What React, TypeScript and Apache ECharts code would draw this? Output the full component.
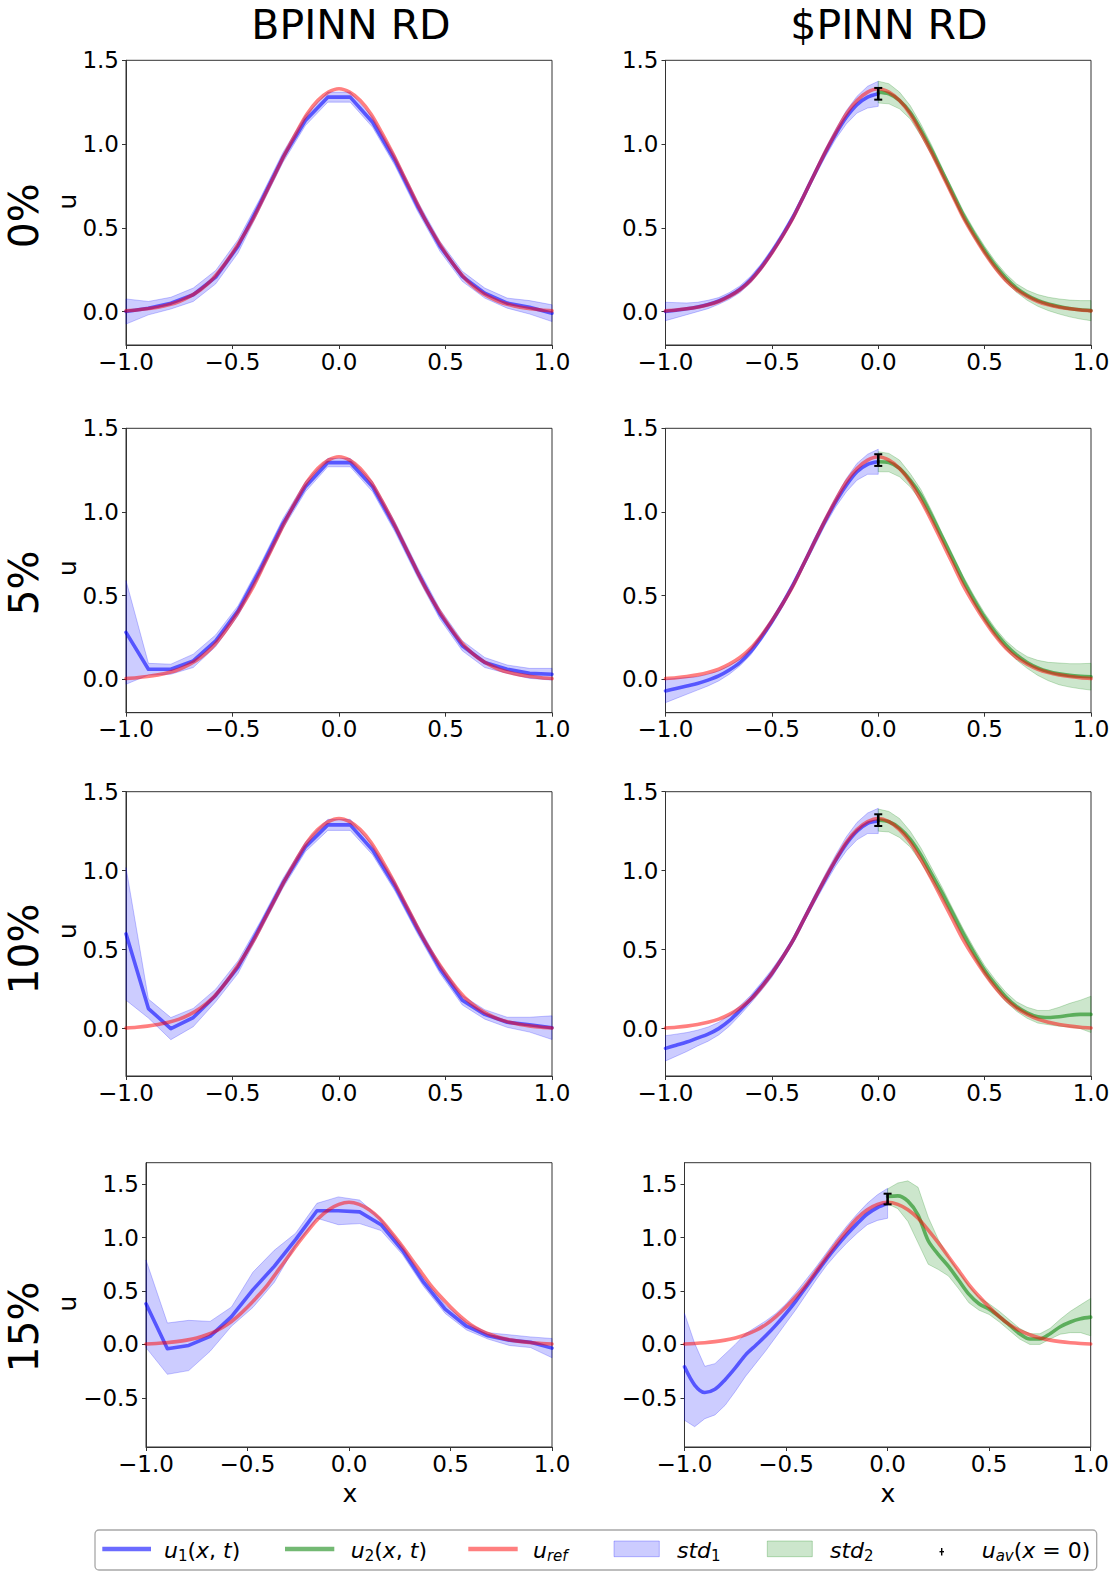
import React, { useEffect, useRef } from 'react';
import * as echarts from 'echarts';

const W = 1114;
const H = 1577;

// ---------- data ----------
const COL_TITLES = ['BPINN RD', '$PINN RD'];
const ROW_LABELS = ['0%', '5%', '10%', '15%'];
const X_TICKS = [-1, -0.5, 0, 0.5, 1];
const Y_RANGES = [[-0.2, 1.5], [-0.2, 1.5], [-0.3, 1.5], [-0.96, 1.7]];
const Y_TICKS = [[0, 0.5, 1, 1.5], [0, 0.5, 1, 1.5], [0, 0.5, 1, 1.5], [-0.5, 0, 0.5, 1, 1.5]];

// reference solution
const X_REF = [-1, -0.95, -0.9, -0.85, -0.8, -0.75, -0.7, -0.65, -0.6, -0.55, -0.5, -0.45, -0.4, -0.35, -0.3, -0.25, -0.2, -0.15, -0.1, -0.05, 0,
  0.05, 0.1, 0.15, 0.2, 0.25, 0.3, 0.35, 0.4, 0.45, 0.5, 0.55, 0.6, 0.65, 0.7, 0.75, 0.8, 0.85, 0.9, 0.95, 1];
const U_REF = [0.004, 0.009, 0.016, 0.026, 0.04, 0.06, 0.09, 0.13, 0.185, 0.26, 0.35, 0.45, 0.56, 0.69, 0.82, 0.95, 1.07, 1.18, 1.26, 1.31, 1.33,
  1.31, 1.26, 1.18, 1.07, 0.95, 0.82, 0.69, 0.56, 0.45, 0.35, 0.26, 0.185, 0.13, 0.09, 0.06, 0.04, 0.026, 0.016, 0.009, 0.004];

// BPINN grid
const X_BP = [-1, -0.8947, -0.7895, -0.6842, -0.5789, -0.4737, -0.3684, -0.2632, -0.1579, -0.0526,
  0.0526, 0.1579, 0.2632, 0.3684, 0.4737, 0.5789, 0.6842, 0.7895, 0.8947, 1];
const BP_MEAN_0 = [0.0, 0.02, 0.05, 0.1, 0.205, 0.39, 0.65, 0.92, 1.14, 1.28, 1.28, 1.13, 0.9, 0.63, 0.39, 0.21, 0.11, 0.05, 0.025, -0.01];
const BP_STD_0 = [0.075, 0.04, 0.035, 0.04, 0.04, 0.04, 0.03, 0.03, 0.03, 0.03, 0.03, 0.03, 0.03, 0.03, 0.03, 0.03, 0.03, 0.03, 0.04, 0.05];
const BP_MEAN_1 = [0.28, 0.06, 0.06, 0.11, 0.23, 0.41, 0.66, 0.93, 1.15, 1.295, 1.295, 1.15, 0.91, 0.64, 0.39, 0.2, 0.1, 0.06, 0.035, 0.03];
const BP_STD_1 = [0.31, 0.035, 0.03, 0.04, 0.035, 0.03, 0.03, 0.03, 0.03, 0.025, 0.025, 0.03, 0.03, 0.03, 0.03, 0.03, 0.03, 0.025, 0.03, 0.035];
const BP_MEAN_2 = [0.6, 0.127, 0.0, 0.07, 0.21, 0.39, 0.65, 0.92, 1.15, 1.29, 1.29, 1.13, 0.9, 0.63, 0.38, 0.18, 0.09, 0.04, 0.025, 0.006];
const BP_STD_2 = [0.42, 0.06, 0.07, 0.058, 0.04, 0.04, 0.03, 0.03, 0.03, 0.035, 0.035, 0.03, 0.03, 0.03, 0.03, 0.03, 0.03, 0.032, 0.047, 0.075];
const BP_MEAN_3 = [0.38, -0.04, -0.01, 0.075, 0.26, 0.51, 0.73, 0.98, 1.25, 1.25, 1.24, 1.12, 0.88, 0.58, 0.33, 0.17, 0.08, 0.04, 0.02, -0.035];
const BP_STD_3 = [0.41, 0.24, 0.235, 0.14, 0.09, 0.165, 0.15, 0.06, 0.07, 0.13, 0.11, 0.055, 0.04, 0.04, 0.04, 0.035, 0.03, 0.05, 0.05, 0.09];

// $PINN grids
const X_L = [-1, -0.95, -0.9, -0.85, -0.8, -0.75, -0.7, -0.65, -0.6, -0.55, -0.5, -0.45, -0.4, -0.35, -0.3, -0.25, -0.2, -0.15, -0.1, -0.05, 0];
const X_R = [0, 0.05, 0.1, 0.15, 0.2, 0.25, 0.3, 0.35, 0.4, 0.45, 0.5, 0.55, 0.6, 0.65, 0.7, 0.75, 0.8, 0.85, 0.9, 0.95, 1];

const PI_U1_0 = [0.0, 0.008, 0.016, 0.027, 0.042, 0.063, 0.093, 0.133, 0.19, 0.265, 0.355, 0.455, 0.565, 0.69, 0.82, 0.945, 1.06, 1.16, 1.235, 1.28, 1.3];
const PI_S1_0 = [0.055, 0.045, 0.035, 0.028, 0.025, 0.02, 0.02, 0.02, 0.02, 0.02, 0.02, 0.02, 0.02, 0.02, 0.02, 0.025, 0.03, 0.04, 0.05, 0.065, 0.075];
const PI_U2_0 = [1.31, 1.3, 1.26, 1.19, 1.085, 0.965, 0.835, 0.705, 0.575, 0.465, 0.365, 0.275, 0.2, 0.14, 0.097, 0.066, 0.045, 0.03, 0.018, 0.01, 0.005];
const PI_S2_0 = [0.065, 0.06, 0.05, 0.04, 0.035, 0.03, 0.025, 0.025, 0.025, 0.025, 0.025, 0.025, 0.025, 0.025, 0.03, 0.035, 0.04, 0.045, 0.05, 0.055, 0.06];
const AV_0 = [1.3, 0.035];

const PI_U1_1 = [-0.07, -0.055, -0.04, -0.025, -0.005, 0.02, 0.055, 0.1, 0.165, 0.25, 0.345, 0.45, 0.565, 0.69, 0.82, 0.945, 1.06, 1.16, 1.24, 1.285, 1.3];
const PI_S1_1 = [0.07, 0.06, 0.05, 0.04, 0.035, 0.03, 0.025, 0.02, 0.02, 0.02, 0.02, 0.02, 0.02, 0.02, 0.025, 0.025, 0.03, 0.04, 0.05, 0.06, 0.075];
const PI_U2_1 = [1.3, 1.295, 1.26, 1.19, 1.1, 0.98, 0.85, 0.72, 0.59, 0.475, 0.37, 0.28, 0.205, 0.145, 0.1, 0.068, 0.046, 0.032, 0.023, 0.018, 0.015];
const PI_S2_1 = [0.06, 0.055, 0.05, 0.04, 0.035, 0.03, 0.025, 0.025, 0.025, 0.025, 0.025, 0.025, 0.025, 0.03, 0.035, 0.045, 0.055, 0.065, 0.07, 0.075, 0.08];
const AV_1 = [1.31, 0.035];

const PI_U1_2 = [-0.125, -0.105, -0.085, -0.06, -0.035, 0.0, 0.05, 0.115, 0.185, 0.265, 0.35, 0.45, 0.56, 0.69, 0.82, 0.945, 1.065, 1.17, 1.25, 1.3, 1.315];
const PI_S1_2 = [0.08, 0.07, 0.06, 0.05, 0.045, 0.04, 0.035, 0.03, 0.025, 0.025, 0.025, 0.02, 0.02, 0.02, 0.025, 0.03, 0.035, 0.045, 0.055, 0.065, 0.08];
const PI_U2_2 = [1.32, 1.31, 1.27, 1.2, 1.1, 0.98, 0.86, 0.73, 0.6, 0.48, 0.37, 0.28, 0.2, 0.14, 0.1, 0.075, 0.07, 0.075, 0.085, 0.09, 0.09];
const PI_S2_2 = [0.07, 0.065, 0.06, 0.05, 0.045, 0.04, 0.035, 0.03, 0.03, 0.03, 0.03, 0.03, 0.03, 0.03, 0.035, 0.04, 0.045, 0.06, 0.075, 0.09, 0.115];
const AV_2 = [1.32, 0.037];

const PI_U1_3 = [-0.21, -0.38, -0.45, -0.42, -0.33, -0.22, -0.1, -0.01, 0.08, 0.18, 0.29, 0.41, 0.54, 0.67, 0.8, 0.92, 1.03, 1.13, 1.22, 1.28, 1.32];
const PI_S1_3 = [0.5, 0.39, 0.245, 0.24, 0.24, 0.22, 0.2, 0.17, 0.14, 0.11, 0.09, 0.08, 0.07, 0.06, 0.06, 0.07, 0.08, 0.09, 0.1, 0.12, 0.14];
const PI_U2_3 = [1.385, 1.39, 1.34, 1.21, 0.97, 0.84, 0.73, 0.6, 0.47, 0.38, 0.33, 0.26, 0.18, 0.1, 0.05, 0.05, 0.1, 0.165, 0.21, 0.24, 0.255];
const PI_S2_3 = [0.07, 0.12, 0.19, 0.26, 0.22, 0.14, 0.09, 0.08, 0.08, 0.06, 0.05, 0.05, 0.05, 0.05, 0.05, 0.05, 0.05, 0.07, 0.1, 0.13, 0.175];
const AV_3 = [1.36, 0.05];

const BP_ROWS = [
  [BP_MEAN_0, BP_STD_0], [BP_MEAN_1, BP_STD_1], [BP_MEAN_2, BP_STD_2], [BP_MEAN_3, BP_STD_3],
];
const PI_ROWS = [
  [PI_U1_0, PI_S1_0, PI_U2_0, PI_S2_0, AV_0],
  [PI_U1_1, PI_S1_1, PI_U2_1, PI_S2_1, AV_1],
  [PI_U1_2, PI_S1_2, PI_U2_2, PI_S2_2, AV_2],
  [PI_U1_3, PI_S1_3, PI_U2_3, PI_S2_3, AV_3],
];

// ---------- layout / style ----------
const FONT = 'DejaVu Sans';
const BLUE_LINE = 'rgba(0,0,255,0.58)';
const GREEN_LINE = 'rgba(0,128,0,0.55)';
const RED_LINE = 'rgba(255,0,0,0.5)';
const BLUE_BAND = 'rgba(0,0,255,0.2)';
const GREEN_BAND = 'rgba(0,128,0,0.2)';
const AXIS_COLOR = '#333';

const ROW_TOP = [60.3, 428.3, 791.7, 1162.7];
const ROW_H = [284.7, 284.4, 284.3, 284.3];
const COL_LEFT = [[126, 665.5], [126, 665.5], [126, 665.5], [146, 684.5]];
const COL_W = [[426, 425.5], [426, 425.5], [426, 425.5], [406, 406.2]];

const fmt = (v: number) => (v < 0 ? '\u2212' : '') + Math.abs(v).toFixed(1);

function bandSeries(k: number, xs: number[], mean: number[], std: number[], fill: string, stroke: string) {
  const lo = xs.map((_, i) => mean[i] - std[i]);
  const hi = xs.map((_, i) => mean[i] + std[i]);
  return {
    type: 'custom',
    xAxisIndex: k,
    yAxisIndex: k,
    silent: true,
    z: 1,
    data: xs.map((x, i) => [x, lo[i], hi[i]]),
    encode: { x: 0, y: [1, 2] },
    renderItem: (params: any, api: any) => {
      if (params.dataIndex !== 0) return null;
      const pts: number[][] = [];
      for (let i = 0; i < xs.length; i++) pts.push(api.coord([xs[i], hi[i]]));
      for (let i = xs.length - 1; i >= 0; i--) pts.push(api.coord([xs[i], lo[i]]));
      return { type: 'polygon', shape: { points: pts }, style: { fill, stroke, lineWidth: 1 } };
    },
  };
}

function lineSeries(k: number, xs: number[], ys: number[], color: string, smooth: boolean | number, z: number, width = 3.6) {
  return {
    type: 'line',
    xAxisIndex: k,
    yAxisIndex: k,
    silent: true,
    z,
    symbol: 'none',
    showSymbol: false,
    smooth,
    data: xs.map((x, i) => [x, ys[i]]),
    lineStyle: { color, width, cap: 'round', join: 'round' },
    itemStyle: { color },
  };
}

function errSeries(k: number, av: number[]) {
  return {
    type: 'custom',
    xAxisIndex: k,
    yAxisIndex: k,
    silent: true,
    z: 10,
    data: [[0, av[0], av[1]]],
    renderItem: (_p: any, api: any) => {
      const x = api.value(0), m = api.value(1), e = api.value(2);
      const t = api.coord([x, m + e]);
      const b = api.coord([x, m - e]);
      return {
        type: 'group',
        children: [
          { type: 'line', shape: { x1: t[0], y1: t[1], x2: b[0], y2: b[1] }, style: { stroke: '#000', lineWidth: 2.6 } },
          { type: 'line', shape: { x1: t[0] - 4, y1: t[1], x2: t[0] + 4, y2: t[1] }, style: { stroke: '#000', lineWidth: 2 } },
          { type: 'line', shape: { x1: b[0] - 4, y1: b[1], x2: b[0] + 4, y2: b[1] }, style: { stroke: '#000', lineWidth: 2 } },
        ],
      };
    },
  };
}

function buildOption() {
  const grid: any[] = [];
  const xAxis: any[] = [];
  const yAxis: any[] = [];
  const series: any[] = [];

  for (let r = 0; r < 4; r++) {
    for (let c = 0; c < 2; c++) {
      const k = r * 2 + c;
      grid.push({
        left: COL_LEFT[r][c], top: ROW_TOP[r], width: COL_W[r][c], height: ROW_H[r],
        show: true, borderColor: AXIS_COLOR, borderWidth: 1, backgroundColor: 'transparent',
      });
      xAxis.push({
        gridIndex: k, type: 'value', min: -1, max: 1, interval: 0.5,
        axisLine: { show: true, onZero: false, lineStyle: { color: AXIS_COLOR, width: 1 } },
        axisTick: { show: true, length: 4, lineStyle: { color: AXIS_COLOR }, customValues: X_TICKS },
        axisLabel: { fontSize: 23, color: '#000', margin: 5, fontFamily: FONT, formatter: fmt, showMinLabel: true, showMaxLabel: true, customValues: X_TICKS },
        splitLine: { show: false },
      });
      yAxis.push({
        gridIndex: k, type: 'value', min: Y_RANGES[r][0], max: Y_RANGES[r][1],
        axisLine: { show: true, onZero: false, lineStyle: { color: AXIS_COLOR, width: 1 } },
        axisTick: { show: true, length: 4, lineStyle: { color: AXIS_COLOR }, customValues: Y_TICKS[r] },
        axisLabel: { fontSize: 23, color: '#000', margin: 7, fontFamily: FONT, formatter: fmt, customValues: Y_TICKS[r] },
        splitLine: { show: false },
      });

      if (c === 0) {
        const [mean, std] = BP_ROWS[r];
        series.push(bandSeries(k, X_BP, mean, std, BLUE_BAND, 'rgba(0,0,255,0.22)'));
        series.push(lineSeries(k, X_BP, mean, BLUE_LINE, false, 2));
        series.push(lineSeries(k, X_REF, U_REF, RED_LINE, 0.3, 3));
      } else {
        const [u1, s1, u2, s2, av] = PI_ROWS[r];
        series.push(bandSeries(k, X_L, u1, s1, BLUE_BAND, 'rgba(0,0,255,0.22)'));
        series.push(bandSeries(k, X_R, u2, s2, GREEN_BAND, 'rgba(0,128,0,0.22)'));
        series.push(lineSeries(k, X_L, u1, BLUE_LINE, 0.3, 2));
        series.push(lineSeries(k, X_R, u2, GREEN_LINE, 0.3, 2));
        series.push(lineSeries(k, X_REF, U_REF, RED_LINE, 0.3, 3));
        series.push(errSeries(k, av));
      }
    }
  }

  const rich = {
    i: { fontFamily: FONT, fontStyle: 'italic', fontSize: 22, lineHeight: 26, fill: '#000' },
    n: { fontFamily: FONT, fontSize: 22, lineHeight: 26, fill: '#000' },
    s: { fontFamily: FONT, fontSize: 15, lineHeight: 15, verticalAlign: 'bottom', fill: '#000' },
    si: { fontFamily: FONT, fontStyle: 'italic', fontSize: 15, lineHeight: 15, verticalAlign: 'bottom', fill: '#000' },
  };
  const legText = (x: number, text: string) => ({
    type: 'text', x, y: 1550, z: 100,
    style: { text, rich, align: 'left', verticalAlign: 'middle', fontFamily: FONT, fontSize: 22 },
  });

  const graphic: any[] = [
    // column titles
    { type: 'text', x: 351, y: 24.5, style: { text: COL_TITLES[0], fontFamily: FONT, fontSize: 41, fill: '#000', align: 'center', verticalAlign: 'middle' } },
    { type: 'text', x: 889, y: 24.5, style: { text: COL_TITLES[1], fontFamily: FONT, fontSize: 41, fill: '#000', align: 'center', verticalAlign: 'middle' } },
  ];
  const rowLabelY = [215.7, 583, 949, 1327];
  const uLabelY = [201.5, 568, 931, 1303.5];
  for (let r = 0; r < 4; r++) {
    graphic.push({ type: 'text', x: 24, y: rowLabelY[r], rotation: Math.PI / 2, style: { text: ROW_LABELS[r], fontFamily: FONT, fontSize: 41, fill: '#000', align: 'center', verticalAlign: 'middle' } });
    graphic.push({ type: 'text', x: 67, y: uLabelY[r], rotation: Math.PI / 2, style: { text: 'u', fontFamily: FONT, fontSize: 25, fill: '#000', align: 'center', verticalAlign: 'middle' } });
  }
  graphic.push({ type: 'text', x: 350, y: 1493, style: { text: 'x', fontFamily: FONT, fontSize: 25, fill: '#000', align: 'center', verticalAlign: 'middle' } });
  graphic.push({ type: 'text', x: 888, y: 1493, style: { text: 'x', fontFamily: FONT, fontSize: 25, fill: '#000', align: 'center', verticalAlign: 'middle' } });

  // legend
  graphic.push({ type: 'rect', z: 90, shape: { x: 95, y: 1530, width: 1001.7, height: 40, r: 4 }, style: { fill: '#fff', stroke: '#a8a8a8', lineWidth: 1.3 } });
  graphic.push({ type: 'line', z: 95, shape: { x1: 102.3, y1: 1549, x2: 151, y2: 1549 }, style: { stroke: BLUE_LINE, lineWidth: 4.5 } });
  graphic.push(legText(164, '{i|u}{s|1}{n|(}{i|x}{n|, }{i|t}{n|)}'));
  graphic.push({ type: 'line', z: 95, shape: { x1: 285, y1: 1549, x2: 334.3, y2: 1549 }, style: { stroke: GREEN_LINE, lineWidth: 4.5 } });
  graphic.push(legText(350.7, '{i|u}{s|2}{n|(}{i|x}{n|, }{i|t}{n|)}'));
  graphic.push({ type: 'line', z: 95, shape: { x1: 468.3, y1: 1549, x2: 517.7, y2: 1549 }, style: { stroke: RED_LINE, lineWidth: 4.5 } });
  graphic.push(legText(533, '{i|u}{si|ref}'));
  graphic.push({ type: 'rect', z: 95, shape: { x: 614, y: 1541, width: 45.3, height: 15.7 }, style: { fill: BLUE_BAND, stroke: 'rgba(0,0,255,0.25)', lineWidth: 1 } });
  graphic.push(legText(677, '{i|std}{s|1}'));
  graphic.push({ type: 'rect', z: 95, shape: { x: 767.3, y: 1541, width: 45, height: 15.7 }, style: { fill: GREEN_BAND, stroke: 'rgba(0,128,0,0.25)', lineWidth: 1 } });
  graphic.push(legText(830, '{i|std}{s|2}'));
  graphic.push({ type: 'line', z: 95, shape: { x1: 941.7, y1: 1548, x2: 941.7, y2: 1555.5 }, style: { stroke: '#000', lineWidth: 1.4 } });
  graphic.push({ type: 'line', z: 95, shape: { x1: 939.5, y1: 1551.7, x2: 944, y2: 1551.7 }, style: { stroke: '#000', lineWidth: 1.4 } });
  graphic.push(legText(981.7, '{i|u}{si|av}{n|(}{i|x}{n| = 0)}'));

  return {
    animation: false,
    backgroundColor: '#fff',
    textStyle: { fontFamily: FONT },
    grid,
    xAxis,
    yAxis,
    series,
    graphic,
  };
}

export default function App() {
  const ref = useRef<HTMLDivElement>(null);
  useEffect(() => {
    const chart = echarts.init(ref.current!, null, { renderer: 'svg', width: W, height: H });
    chart.setOption(buildOption() as any);
    return () => chart.dispose();
  }, []);
  return (
    <div
      ref={ref}
      style={{ position: 'absolute', left: 0, top: 0, width: W, height: H, background: '#fff' }}
    />
  );
}
